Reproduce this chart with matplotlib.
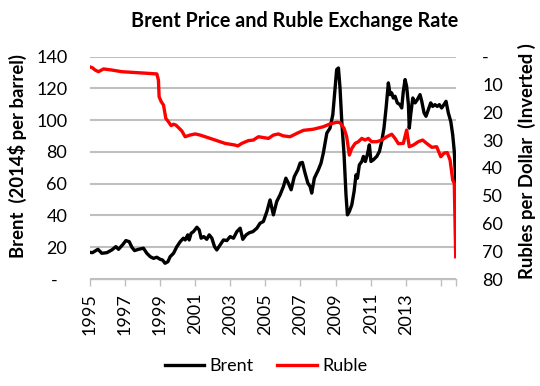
import matplotlib
matplotlib.use("Agg")
import matplotlib.pyplot as plt
from matplotlib.lines import Line2D

plt.rcParams['font.family'] = ['Lato', 'DejaVu Sans']

# Brent price (2014$ per barrel), left axis
brent_x = [1995.00, 1995.17, 1995.48, 1995.70, 1995.99, 1996.27, 1996.50, 1996.65, 1996.88, 1997.07,
           1997.26, 1997.41, 1997.56, 1997.79, 1998.07, 1998.26, 1998.45, 1998.64, 1998.83, 1999.02,
           1999.15, 1999.30, 1999.46, 1999.59, 1999.78, 1999.97, 2000.16, 2000.34, 2000.44, 2000.59,
           2000.67, 2000.78, 2000.91, 2001.11, 2001.24, 2001.35, 2001.50, 2001.67, 2001.81, 2001.96,
           2002.11, 2002.24, 2002.43, 2002.62, 2002.81, 2003.00, 2003.19, 2003.38, 2003.57, 2003.72,
           2003.91, 2004.10, 2004.29, 2004.52, 2004.70, 2004.89, 2005.09, 2005.27, 2005.46, 2005.65,
           2005.84, 2006.03, 2006.17, 2006.31, 2006.47, 2006.65, 2006.85, 2006.98, 2007.11, 2007.26,
           2007.42, 2007.55, 2007.64, 2007.79, 2008.02, 2008.17, 2008.30, 2008.50, 2008.68, 2008.84,
           2008.97, 2009.06, 2009.16, 2009.25, 2009.35, 2009.48, 2009.59, 2009.67, 2009.78, 2009.92,
           2010.05, 2010.16, 2010.24, 2010.35, 2010.49, 2010.58, 2010.69, 2010.80, 2010.92, 2011.01,
           2011.15, 2011.34, 2011.49, 2011.62, 2011.75, 2011.87, 2012.00, 2012.10, 2012.19, 2012.28,
           2012.38, 2012.51, 2012.66, 2012.76, 2012.85, 2012.95, 2013.04, 2013.14, 2013.19, 2013.27,
           2013.39, 2013.52, 2013.65, 2013.80, 2013.90, 2014.03, 2014.14, 2014.27, 2014.41, 2014.52,
           2014.65, 2014.78, 2014.90, 2015.03, 2015.16, 2015.28, 2015.41, 2015.55, 2015.66, 2015.75,
           2015.83]
brent_y = [16.8, 16.6, 18.7, 16.2, 16.6, 18.3, 20.4, 18.7, 21.5, 24.2,
           23.5, 20.0, 17.9, 18.7, 19.4, 16.2, 14.1, 13.0, 13.7, 12.4,
           12.0, 9.9, 10.9, 14.1, 16.2, 20.4, 23.5, 25.7, 24.6, 27.8,
           24.6, 28.8, 29.8, 32.6, 30.9, 25.7, 26.7, 25.0, 27.8, 25.7,
           20.4, 18.3, 21.5, 24.6, 24.2, 26.7, 25.7, 29.8, 32.0, 25.0,
           27.8, 29.2, 29.8, 32.0, 35.1, 36.2, 42.5, 49.8, 40.4, 48.8,
           53.0, 58.2, 63.5, 60.4, 56.2, 64.5, 68.8, 73.0, 73.4, 66.7,
           60.4, 58.2, 54.1, 63.5, 68.8, 73.0, 79.3, 91.9, 95.0, 103.5,
           120.3, 131.9, 132.9, 120.3, 99.2, 78.2, 53.0, 40.4, 42.5, 46.7,
           55.1, 65.6, 63.5, 71.9, 74.0, 77.2, 74.0, 78.2, 84.5, 74.0,
           75.1, 77.2, 80.3, 86.6, 95.0, 107.7, 123.5, 116.1, 117.2, 114.0,
           115.1, 110.9, 109.8, 107.7, 118.2, 125.6, 121.3, 109.8, 95.0, 103.5,
           114.0, 110.9, 113.0, 116.1, 111.9, 104.6, 102.5, 106.6, 110.9, 108.7,
           109.8, 108.7, 109.8, 107.7, 109.8, 111.9, 104.6, 99.2, 90.8, 80.3,
           60.6]

# Ruble per dollar, right axis (inverted)
ruble_x = [1995.00, 1995.17, 1995.32, 1995.51, 1995.80, 1996.27, 1996.84, 1997.60, 1998.35, 1998.83,
           1998.92, 1998.96, 1999.08, 1999.21, 1999.34, 1999.49, 1999.64, 1999.78, 1999.91, 2000.06,
           2000.25, 2000.44, 2000.72, 2001.01, 2001.29, 2001.58, 2002.15, 2002.71, 2003.28, 2003.44,
           2003.66, 2004.04, 2004.32, 2004.61, 2004.89, 2005.18, 2005.46, 2005.74, 2006.03, 2006.41,
           2006.79, 2007.17, 2007.73, 2008.30, 2008.68, 2009.06, 2009.25, 2009.48, 2009.63, 2009.78,
           2009.92, 2010.11, 2010.29, 2010.49, 2010.67, 2010.86, 2011.05, 2011.34, 2011.62, 2011.91,
           2012.19, 2012.38, 2012.57, 2012.85, 2013.04, 2013.19, 2013.42, 2013.70, 2013.95, 2014.18,
           2014.47, 2014.75, 2014.98, 2015.17, 2015.35, 2015.51, 2015.66, 2015.75, 2015.83]
ruble_y = [3.6, 4.0, 4.8, 5.4, 4.4, 4.8, 5.4, 5.7, 6.0, 6.2,
           8.4, 14.4, 16.2, 17.4, 22.2, 23.4, 24.8, 24.3, 24.6, 25.5,
           26.7, 28.8, 28.2, 27.8, 28.2, 28.8, 30.0, 31.2, 31.8, 32.1,
           31.2, 30.2, 30.0, 28.8, 29.1, 29.4, 28.2, 27.8, 28.5, 28.8,
           27.6, 26.5, 26.1, 25.2, 24.2, 23.6, 23.7, 25.8, 28.8, 35.4,
           33.0, 31.2, 30.6, 29.4, 30.0, 29.4, 30.6, 30.6, 30.0, 28.8,
           27.9, 29.4, 31.3, 31.2, 26.4, 32.4, 31.8, 30.6, 30.0, 31.2,
           32.6, 32.4, 36.0, 34.7, 34.5, 37.2, 44.4, 45.6, 72.0]

year_ticks = [1995, 1997, 1999, 2001, 2003, 2005, 2007, 2009, 2011, 2013, 2015]
year_labels = ['1995', '1997', '1999', '2001', '2003', '2005', '2007', '2009', '2011', '2013', '']
left_ticks = [0, 20, 40, 60, 80, 100, 120, 140]
left_labels = ['-  ', '20', '40', '60', '80', '100', '120', '140']
right_ticks = [0, 10, 20, 30, 40, 50, 60, 70, 80]
right_labels = ['-', '10', '20', '30', '40', '50', '60', '70', '80']

W, H = 540, 386
fig = plt.figure(figsize=(W / 100, H / 100), dpi=100)
x0, x1, ytop, ybot = 89.5, 455.7, 56.7, 279.0
ax = fig.add_axes([x0 / W, 1 - ybot / H, (x1 - x0) / W, (ybot - ytop) / H])
ax2 = ax.twinx()

grid_c = '#BFBFBF'
ax.set_xlim(1995, 2015.83)
ax.set_ylim(0, 140)
ax2.set_ylim(80, 0)

ax.set_yticks(left_ticks)
ax.set_yticklabels(left_labels)
ax2.set_yticks(right_ticks)
ax2.set_yticklabels(right_labels)
ax.set_xticks(year_ticks + [2015.83])
ax.set_xticklabels(year_labels + [''], rotation=90)

ax.grid(axis='y', color=grid_c, linewidth=1.5)
ax.set_axisbelow(True)
for a in (ax, ax2):
    for s in ('left', 'right', 'top', 'bottom'):
        a.spines[s].set_visible(False)
ax.spines['bottom'].set_visible(True)
ax.spines['bottom'].set_color(grid_c)
ax.spines['bottom'].set_linewidth(1.0)

ax.tick_params(axis='y', length=0, pad=16, labelsize=13)
ax2.tick_params(axis='y', length=0, pad=19, labelsize=13)
ax.tick_params(axis='x', length=5, width=1, color=grid_c, pad=5, labelsize=13)
for lbl in ax2.get_yticklabels():
    lbl.set_horizontalalignment('left')

ax.plot(brent_x, brent_y, color='#000000', linewidth=2.4, solid_joinstyle='round')
ax2.plot(ruble_x, ruble_y, color='#FF0000', linewidth=2.4, solid_joinstyle='round')

fig.text(295 / W, 1 - 27.3 / H, 'Brent Price and Ruble Exchange Rate', ha='center', va='baseline',
         fontsize=14.2, fontweight='bold')
fig.text(17 / W, 1 - 156.5 / H, 'Brent  (2014$ per barrel)', rotation=90, ha='center', va='center',
         fontsize=13.3, fontweight='bold')
fig.text(527 / W, 1 - 161.5 / H, 'Rubles per Dollar  (Inverted )', rotation=90, ha='center', va='center',
         fontsize=13.3, fontweight='bold')

handles = [Line2D([], [], color='#000000', linewidth=2.4), Line2D([], [], color='#FF0000', linewidth=2.4)]
fig.legend(handles, ['Brent', 'Ruble'], loc='center', bbox_to_anchor=(266 / W, 1 - 366 / H), ncol=2,
           frameon=False, fontsize=13, handlelength=2.2, handletextpad=0.3, columnspacing=1.3)

fig.savefig('out.png', dpi=100)
